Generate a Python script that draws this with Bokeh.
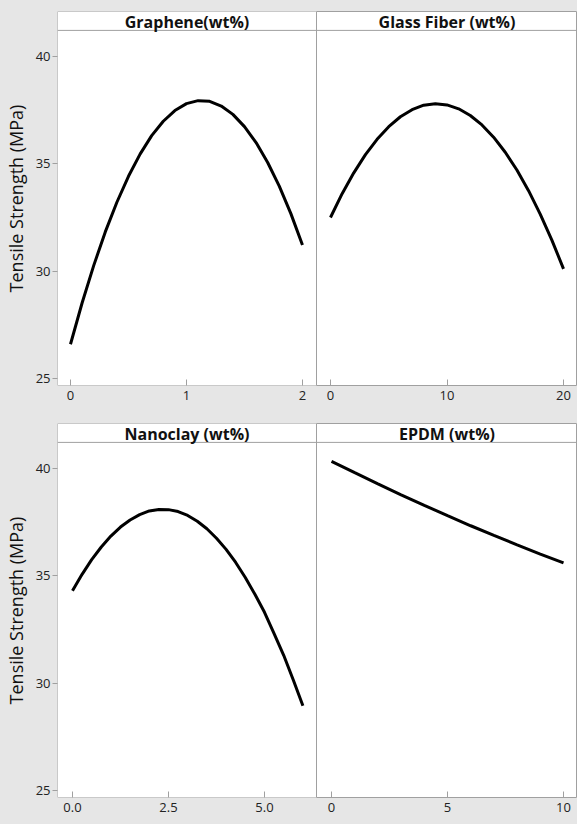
from bokeh.plotting import figure
from bokeh.layouts import column, row
from bokeh.models import FixedTicker, PrintfTickFormatter, Range1d, Label, Span
from bokeh.embed import file_html
from bokeh.resources import INLINE

# ---------------- data ----------------
graphene_x = [0.0, 0.1, 0.2, 0.3, 0.4, 0.5, 0.6, 0.7, 0.8, 0.9, 1.0,
              1.1, 1.2, 1.3, 1.4, 1.5, 1.6, 1.7, 1.8, 1.9, 2.0]
graphene_y = [26.60, 28.52, 30.26, 31.83, 33.21, 34.42, 35.45, 36.31, 36.98, 37.48, 37.80,
              37.94, 37.91, 37.69, 37.30, 36.73, 35.99, 35.06, 33.96, 32.68, 31.22]

glass_x = [0, 1, 2, 3, 4, 5, 6, 7, 8, 9, 10, 11, 12, 13, 14, 15, 16, 17, 18, 19, 20]
glass_y = [32.50, 33.61, 34.58, 35.43, 36.14, 36.73, 37.19, 37.52, 37.73, 37.80, 37.74,
           37.56, 37.25, 36.81, 36.24, 35.54, 34.71, 33.75, 32.66, 31.45, 30.11]

nanoclay_x = [0.0, 0.25, 0.5, 0.75, 1.0, 1.25, 1.5, 1.75, 2.0, 2.25, 2.5, 2.75, 3.0,
              3.25, 3.5, 3.75, 4.0, 4.25, 4.5, 4.75, 5.0, 5.25, 5.5, 5.75, 6.0]
nanoclay_y = [34.30, 35.07, 35.75, 36.34, 36.85, 37.27, 37.60, 37.85, 38.02, 38.09, 38.08, 37.99, 37.81,
              37.54, 37.19, 36.75, 36.23, 35.62, 34.92, 34.14, 33.30, 32.31, 31.30, 30.15, 28.95]

epdm_x = [0, 1, 2, 3, 4, 5, 6, 7, 8, 9, 10]
epdm_y = [40.33, 39.80, 39.28, 38.77, 38.28, 37.80, 37.33, 36.88, 36.44, 36.01, 35.60]

titles = ["Graphene(wt%)", "Glass Fiber (wt%)", "Nanoclay (wt%)", "EPDM (wt%)"]
y_ticks = [25, 30, 35, 40]
x_ticks = [[0, 1, 2], [0, 10, 20], [0.0, 2.5, 5.0], [0, 5, 10]]
y_label = "Tensile Strength (MPa)"

# ---------------- style ----------------
GRAY_BG = "#e6e6e6"
FRAME = "#a0a0a0"
TICK_FONT = "Open Sans"
Y_TOP = 42.09
Y_BOT = 24.68
HEADER = 41.21
FRAME_H = 374


def make_panel(xs, ys, title, xr, ticks, left, width, top_border, bottom_border, fmt=None):
    mb_left = 57 if left else 0
    p = figure(width=width, height=top_border + FRAME_H + bottom_border,
               x_range=Range1d(*xr), y_range=Range1d(Y_BOT, Y_TOP),
               output_backend="svg", toolbar_location=None,
               min_border_left=mb_left, min_border_right=0,
               min_border_top=top_border, min_border_bottom=bottom_border)
    p.border_fill_color = GRAY_BG
    p.background_fill_color = "white"
    p.xgrid.visible = False
    p.ygrid.visible = False

    if left:
        # left / top / bottom frame edges; the right edge comes from the neighbour panel
        p.outline_line_color = None
        for loc in (Y_TOP, Y_BOT):
            p.add_layout(Span(location=loc, dimension="width", line_color=FRAME, line_width=1))
        p.add_layout(Span(location=xr[0], dimension="height", line_color=FRAME, line_width=1))
    else:
        p.outline_line_color = FRAME
        p.outline_line_width = 1

    # header strip
    p.add_layout(Span(location=HEADER, dimension="width", line_color=FRAME, line_width=1))
    p.add_layout(Label(x=(xr[0] + xr[1]) / 2, y=(HEADER + Y_TOP) / 2 - 0.04, text=title,
                       text_align="center", text_baseline="middle",
                       text_font="Open Sans", text_font_style="bold",
                       text_font_size="16px", text_color="#111111"))

    p.line(xs, ys, line_color="black", line_width=3)

    xa = p.xaxis[0]
    xa.ticker = FixedTicker(ticks=ticks)
    xa.axis_line_color = None
    xa.major_tick_in = 6
    xa.major_tick_out = 0
    xa.major_tick_line_color = FRAME
    xa.minor_tick_line_color = None
    xa.major_label_standoff = 5
    xa.major_label_text_font = TICK_FONT
    xa.major_label_text_font_size = "13px"
    xa.major_label_text_color = "#222222"
    if fmt is not None:
        xa.formatter = PrintfTickFormatter(format=fmt)

    ya = p.yaxis[0]
    if left:
        ya.ticker = FixedTicker(ticks=y_ticks)
        ya.axis_line_color = None
        ya.major_tick_in = 0
        ya.major_tick_out = 5
        ya.major_tick_line_color = FRAME
        ya.minor_tick_line_color = None
        ya.major_label_standoff = 2
        ya.major_label_text_font = TICK_FONT
        ya.major_label_text_font_size = "13px"
        ya.major_label_text_color = "#222222"
        ya.axis_label = y_label
        ya.axis_label_standoff = 5
        ya.axis_label_text_font = "Open Sans"
        ya.axis_label_text_font_style = "normal"
        ya.axis_label_text_font_size = "18px"
        ya.axis_label_text_color = "#111111"
    else:
        ya.visible = False
    return p


p1 = make_panel(graphene_x, graphene_y, titles[0], (-0.112, 2.121), x_ticks[0], True, 316, 11, 22)
p2 = make_panel(glass_x, glass_y, titles[1], (-1.20, 21.20), x_ticks[1], False, 261, 11, 22)
p3 = make_panel(nanoclay_x, nanoclay_y, titles[2], (-0.39, 6.354), x_ticks[2], True, 316, 16, 27, fmt="%.1f")
p4 = make_panel(epdm_x, epdm_y, titles[3], (-0.647, 10.603), x_ticks[3], False, 261, 16, 27)

bg = {"background-color": GRAY_BG}
layout = column(row(p1, p2, styles=bg), row(p3, p4, styles=bg), styles=bg)

open("out.html", "w").write(file_html(layout, INLINE))
